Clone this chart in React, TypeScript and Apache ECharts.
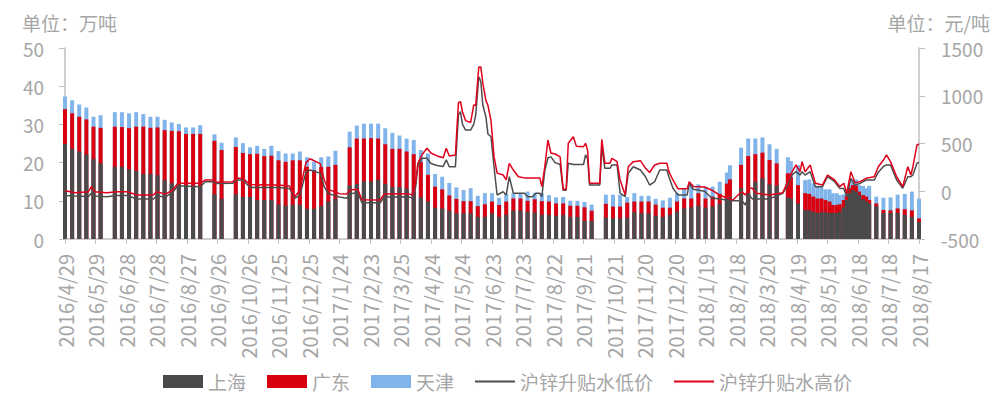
import React, { useEffect, useRef } from "react";
import * as echarts from "echarts";

// ---------- data ----------
const xTickLabels = [
  "2016/4/29", "2016/5/29", "2016/6/28", "2016/7/28", "2016/8/27", "2016/9/26", "2016/10/26",
  "2016/11/25", "2016/12/25", "2017/1/24", "2017/2/23", "2017/3/25", "2017/4/24", "2017/5/24",
  "2017/6/23", "2017/7/23", "2017/8/22", "2017/9/21", "2017/10/21", "2017/11/20", "2017/12/20",
  "2018/1/19", "2018/2/18", "2018/3/20", "2018/4/19", "2018/5/19", "2018/6/18", "2018/7/18", "2018/8/17",
];

const barDates = [
  "2016-04-29", "2016-05-06", "2016-05-13", "2016-05-20", "2016-05-27", "2016-06-03", "2016-06-17", "2016-06-24",
  "2016-07-01", "2016-07-08", "2016-07-15", "2016-07-22", "2016-07-29", "2016-08-05", "2016-08-12", "2016-08-19",
  "2016-08-26", "2016-09-02", "2016-09-09", "2016-09-23", "2016-09-30", "2016-10-14", "2016-10-21", "2016-10-28",
  "2016-11-04", "2016-11-11", "2016-11-18", "2016-11-25", "2016-12-02", "2016-12-09", "2016-12-16", "2016-12-23",
  "2016-12-30", "2017-01-06", "2017-01-13", "2017-01-20", "2017-02-03", "2017-02-10", "2017-02-17", "2017-02-24",
  "2017-03-03", "2017-03-10", "2017-03-17", "2017-03-24", "2017-03-31", "2017-04-07", "2017-04-14", "2017-04-21",
  "2017-04-28", "2017-05-05", "2017-05-12", "2017-05-19", "2017-05-26", "2017-06-02", "2017-06-09", "2017-06-16",
  "2017-06-23", "2017-06-30", "2017-07-07", "2017-07-14", "2017-07-21", "2017-07-28", "2017-08-04", "2017-08-11",
  "2017-08-18", "2017-08-25", "2017-09-01", "2017-09-08", "2017-09-15", "2017-09-22", "2017-09-29", "2017-10-13",
  "2017-10-20", "2017-10-27", "2017-11-03", "2017-11-10", "2017-11-17", "2017-11-24", "2017-12-01", "2017-12-08",
  "2017-12-15", "2017-12-22", "2017-12-29", "2018-01-05", "2018-01-12", "2018-01-19", "2018-01-26", "2018-02-02",
  "2018-02-09", "2018-02-12", "2018-02-23", "2018-03-02", "2018-03-09", "2018-03-16", "2018-03-23", "2018-03-30",
  "2018-04-10", "2018-04-13", "2018-04-20", "2018-04-27", "2018-05-01", "2018-05-05", "2018-05-09", "2018-05-13",
  "2018-05-17", "2018-05-21", "2018-05-24", "2018-05-28", "2018-05-31", "2018-06-04", "2018-06-07", "2018-06-10",
  "2018-06-13", "2018-06-16", "2018-06-19", "2018-06-23", "2018-06-26", "2018-06-29", "2018-07-06", "2018-07-13",
  "2018-07-20", "2018-07-27", "2018-08-03", "2018-08-10", "2018-08-17",
];

const shanghai = [
  24.9, 23.6, 22.9, 22.1, 20.9, 19.8, 18.9, 18.9,
  18.2, 17.8, 17.0, 17.0, 16.7, 15.4, 14.6, 14.3,
  14.0, 13.8, 13.8, 11.7, 10.5, 11.7, 11.0, 11.0,
  10.2, 10.2, 10.2, 9.0, 8.7, 9.0, 9.0, 7.9,
  7.9, 8.6, 9.8, 10.5, 14.0, 14.4, 15.1, 15.1,
  15.5, 14.4, 13.6, 13.6, 13.2, 12.4, 10.9, 9.8,
  8.2, 8.0, 7.4, 6.7, 6.7, 6.7, 5.8, 5.8,
  6.7, 5.8, 6.3, 7.4, 7.4, 7.1, 6.9, 6.3,
  6.3, 6.1, 6.3, 5.8, 5.8, 4.7, 4.7, 5.6,
  5.4, 5.4, 5.6, 7.0, 6.7, 6.7, 6.1, 5.8,
  6.3, 7.2, 8.0, 8.3, 8.7, 8.2, 8.5, 9.2,
  11.0, 11.0, 13.3, 12.0, 15.0, 15.9, 14.3, 14.0,
  10.9, 10.6, 9.3, 7.6, 7.5, 7.1, 6.8, 7.0,
  7.0, 6.8, 6.8, 6.8, 7.1, 8.3, 10.2, 12.0,
  12.8, 12.4, 11.5, 10.4, 9.9, 9.3, 8.6, 6.8,
  6.8, 6.8, 6.3, 5.8, 4.5,
];

const guangdong = [
  9.1, 9.3, 9.1, 9.2, 8.5, 9.3, 10.5, 10.4,
  10.8, 11.6, 12.4, 12.1, 12.5, 13.1, 13.7, 13.9,
  13.5, 13.7, 13.7, 14.0, 12.8, 12.4, 11.5, 11.2,
  12.1, 11.5, 11.6, 11.6, 11.5, 11.6, 11.6, 11.0,
  10.1, 10.2, 9.1, 8.9, 10.0, 11.9, 11.2, 11.3,
  10.8, 10.4, 10.0, 10.0, 9.7, 9.8, 9.3, 7.0,
  5.5, 5.0, 4.0, 3.8, 3.2, 3.2, 2.8, 3.3,
  3.1, 3.1, 3.5, 3.2, 3.2, 2.9, 3.5, 3.6,
  3.5, 3.2, 3.0, 2.9, 2.9, 3.6, 2.7, 3.6,
  3.1, 3.1, 3.9, 2.8, 3.1, 3.1, 2.9, 2.4,
  1.9, 2.6, 2.6, 2.3, 3.3, 2.4, 2.6, 2.6,
  3.5, 4.6, 6.1, 9.7, 7.2, 6.7, 6.4, 5.8,
  6.3, 5.6, 4.8, 4.4, 4.3, 4.0, 3.8, 3.6,
  3.2, 3.0, 2.1, 2.1, 2.0, 1.9, 1.1, 1.3,
  1.3, 1.5, 0.9, 1.1, 1.2, 0.9, 0.7, 0.8,
  0.7, 1.2, 1.5, 1.7, 0.9,
];

const tianjin = [
  3.3, 3.4, 3.2, 3.1, 2.6, 3.3, 3.8, 3.9,
  3.9, 3.8, 3.3, 2.9, 2.8, 2.7, 2.2, 1.9,
  1.7, 1.7, 2.3, 1.7, 1.9, 2.5, 2.6, 1.8,
  2.1, 1.9, 2.6, 2.4, 2.2, 1.8, 2.3, 2.5,
  2.3, 2.6, 2.7, 3.7, 4.1, 3.4, 3.9, 3.8,
  3.9, 4.2, 4.2, 3.5, 3.4, 3.7, 3.1, 5.6,
  3.3, 3.3, 3.3, 3.0, 2.9, 3.4, 2.7, 2.9,
  2.2, 1.9, 2.0, 1.4, 1.4, 2.4, 1.7, 2.1,
  1.7, 1.6, 1.7, 1.3, 1.3, 1.4, 1.6, 2.4,
  3.1, 3.1, 1.5, 2.2, 1.5, 1.5, 1.5, 1.9,
  2.6, 2.2, 2.7, 3.8, 2.3, 3.1, 2.6, 3.2,
  2.9, 3.7, 4.5, 4.6, 4.1, 4.0, 4.1, 3.8,
  4.2, 4.2, 5.2, 3.4, 3.8, 3.5, 3.3, 2.9,
  2.8, 3.2, 3.1, 3.1, 2.4, 1.5, 1.5, 0.8,
  1.3, 1.7, 1.7, 2.4, 2.2, 3.7, 1.8, 3.2,
  3.4, 3.6, 4.0, 4.9, 5.2,
];

const lineDates = [
  "2016-04-29", "2016-05-09", "2016-05-22", "2016-05-25", "2016-05-28", "2016-06-09", "2016-06-19", "2016-06-29",
  "2016-07-09", "2016-07-25", "2016-07-28", "2016-08-06", "2016-08-13", "2016-08-18", "2016-09-09", "2016-09-14",
  "2016-09-22", "2016-09-25", "2016-10-11", "2016-10-15", "2016-10-21", "2016-10-28", "2016-11-24", "2016-12-06",
  "2016-12-11", "2016-12-16", "2016-12-22", "2016-12-26", "2017-01-05", "2017-01-09", "2017-01-13", "2017-01-24",
  "2017-01-31", "2017-02-03", "2017-02-11", "2017-02-15", "2017-03-05", "2017-03-09", "2017-04-01", "2017-04-06",
  "2017-04-09", "2017-04-11", "2017-04-15", "2017-04-20", "2017-04-24", "2017-04-30", "2017-05-06", "2017-05-09",
  "2017-05-12", "2017-05-18", "2017-05-21", "2017-05-23", "2017-05-25", "2017-05-28", "2017-06-02", "2017-06-05",
  "2017-06-07", "2017-06-10", "2017-06-12", "2017-06-14", "2017-06-17", "2017-06-19", "2017-06-22", "2017-06-25",
  "2017-06-28", "2017-07-04", "2017-07-07", "2017-07-10", "2017-07-14", "2017-07-19", "2017-07-25", "2017-07-28",
  "2017-08-02", "2017-08-05", "2017-08-09", "2017-08-11", "2017-08-14", "2017-08-17", "2017-08-20", "2017-08-24",
  "2017-08-29", "2017-09-01", "2017-09-04", "2017-09-06", "2017-09-11", "2017-09-14", "2017-09-21", "2017-09-23",
  "2017-09-25", "2017-09-27", "2017-10-07", "2017-10-09", "2017-10-12", "2017-10-17", "2017-10-19", "2017-10-24",
  "2017-10-27", "2017-11-01", "2017-11-04", "2017-11-09", "2017-11-16", "2017-11-21", "2017-11-25", "2017-11-30",
  "2017-12-05", "2017-12-12", "2017-12-14", "2017-12-18", "2017-12-23", "2018-01-01", "2018-01-03", "2018-01-07",
  "2018-01-18", "2018-01-25", "2018-02-02", "2018-02-09", "2018-02-15", "2018-02-20", "2018-02-24", "2018-02-27",
  "2018-03-03", "2018-03-06", "2018-03-10", "2018-03-23", "2018-04-05", "2018-04-09", "2018-04-14", "2018-04-18",
  "2018-04-22", "2018-04-24", "2018-04-27", "2018-05-02", "2018-05-07", "2018-05-14", "2018-05-19", "2018-05-26",
  "2018-05-31", "2018-06-04", "2018-06-07", "2018-06-11", "2018-06-15", "2018-06-20", "2018-06-26", "2018-07-04",
  "2018-07-08", "2018-07-13", "2018-07-16", "2018-07-20", "2018-07-26", "2018-08-01", "2018-08-06", "2018-08-09",
  "2018-08-11", "2018-08-15", "2018-08-17",
];

const highPrice = [
  5, -15, -5, 48, -5, -15, -5, -5,
  -39, -39, -5, -30, 13, 83, 83, 118,
  118, 95, 100, 135, 135, 70, 65, 55,
  -57, 10, 300, 340, 290, 118, 20, -25,
  -30, 13, 20, -90, -92, -30, -25, -39,
  100, 290, 380, 450, 400, 370, 350, 450,
  370, 380, 930, 937, 830, 740, 720, 903,
  900, 1300, 1300, 1130, 950, 900, 740, 362,
  190, 170, 118, 293, 222, 152, 140, 140,
  140, 140, 140, 48, 260, 537, 400, 390,
  360, 20, 20, 502, 571, 470, 467, 502,
  432, 83, 83, 544, 293, 293, 345, 310,
  118, -39, 257, 310, 320, 240, 196, 275,
  293, 293, 205, 118, 25, 25, 100, 50,
  45, 13, -40, -70, -92, -39, -5, -40,
  31, 31, -20, -39, -15, 83, 200, 275,
  205, 310, 205, 275, 83, 65, 170, 118,
  48, 83, -21, 205, 90, 100, 135, 152,
  257, 327, 380, 310, 152, 48, 257, 170,
  257, 484, 495,
];

const lowPrice = [
  -45, -50, -55, -20, -50, -57, -45, -45,
  -81, -81, -50, -60, -10, 58, 48, 100,
  100, 80, 83, 118, 118, 40, 40, 30,
  -74, -40, 200, 222, 190, 48, -25, -60,
  -74, -30, -10, -120, -120, -60, -57, -70,
  50, 257, 345, 345, 290, 270, 260, 330,
  257, 257, 800, 833, 700, 641, 641, 700,
  800, 1199, 1150, 900, 780, 600, 571, 257,
  -39, -5, -39, 152, -21, -21, -21, -57,
  -57, -21, -21, -57, 220, 350, 360, 300,
  280, 10, 10, 293, 280, 280, 280, 380,
  340, 65, 65, 467, 240, 240, 275, 275,
  -20, -57, 188, 257, 222, 152, 65, 100,
  222, 222, 152, 31, -39, -39, 83, 20,
  0, -70, -80, -92, -100, -100, -100, -144,
  -40, -80, -80, -80, -21, 48, 170, 205,
  170, 205, 170, 205, 48, 48, 152, 100,
  30, 30, -57, 135, 60, 83, 118, 118,
  200, 260, 275, 275, 118, 31, 152, 152,
  170, 293, 303,
];

// ---------- helpers ----------
const START = Date.UTC(2016, 3, 29);
const dayOf = (s: string) => {
  const [y, m, d] = s.split("-").map(Number);
  return Math.round((Date.UTC(y, m - 1, d) - START) / 86400000);
};

const FONT = "'Noto Sans CJK SC', 'Microsoft YaHei', sans-serif";
const TEXT = "#A6A6A6";
const AXIS = "#BFBFBF";
// thin horizontal line icon inside a 40x13 box (the tiny left sliver keeps the box height)
const LINE_ICON = "path://M0,0h0.01v13h-0.01z M0,5.6h40v1.8h-40z";

export default function App() {
  const ref = useRef<HTMLDivElement>(null);

  useEffect(() => {
    document.body.style.margin = "0";
    if (!ref.current) return;
    const chart = echarts.init(ref.current, undefined, { renderer: "svg" });

    const barX = barDates.map(dayOf);
    const lineX = lineDates.map(dayOf);
    // cumulative tops: 上海 at the bottom, 广东 above it, 天津 on top
    const topSh = shanghai.map((v) => v);
    const topGd = shanghai.map((v, i) => v + guangdong[i]);
    const topTj = shanghai.map((v, i) => v + guangdong[i] + tianjin[i]);

    const barSeries = (name: string, tops: number[], color: string, z: number) => ({
      name,
      type: "bar",
      barWidth: 4,
      barGap: "-100%",
      yAxisIndex: 0,
      z,
      itemStyle: { color },
      data: tops.map((v, i) => [barX[i], v]),
    });
    const lineSeries = (name: string, vals: number[], color: string, z: number) => ({
      name,
      type: "line",
      yAxisIndex: 1,
      symbol: "none",
      showSymbol: false,
      z,
      lineStyle: { color, width: 1.5 },
      itemStyle: { color },
      data: vals.map((v, i) => [lineX[i], v]),
    });

    chart.setOption({
      animation: false,
      textStyle: { fontFamily: FONT },
      grid: { left: 65, right: 82, top: 48, bottom: 157, containLabel: false },
      graphic: [
        { type: "text", left: 22, top: 13, style: { text: "单位：万吨", fontSize: 19, fill: TEXT, fontFamily: FONT } },
        { type: "text", right: 11, top: 13, style: { text: "单位：元/吨", fontSize: 19, fill: TEXT, fontFamily: FONT } },
      ],
      legend: {
        top: 367,
        left: 158,
        itemWidth: 40,
        itemHeight: 13,
        itemGap: 21,
        textStyle: { fontSize: 19, color: TEXT, fontFamily: FONT },
        data: [
          { name: "上海", icon: "rect" },
          { name: "广东", icon: "rect" },
          { name: "天津", icon: "rect" },
          { name: "沪锌升贴水低价", icon: LINE_ICON },
          { name: "沪锌升贴水高价", icon: LINE_ICON },
        ],
      },
      xAxis: {
        type: "value",
        min: 0,
        max: 840,
        interval: 30,
        axisLine: { show: true, onZero: false, lineStyle: { color: AXIS, width: 1.5 } },
        axisTick: { show: true, length: 5, lineStyle: { color: AXIS } },
        splitLine: { show: false },
        axisLabel: {
          rotate: 90,
          fontSize: 20,
          color: TEXT,
          margin: 15,
          showMinLabel: true,
          showMaxLabel: true,
          formatter: (v: number) => xTickLabels[Math.round(v / 30)] ?? "",
        },
      },
      yAxis: [
        {
          type: "value",
          min: 0,
          max: 50,
          interval: 10,
          axisLine: { show: true, lineStyle: { color: AXIS, width: 1.5 } },
          axisTick: { show: true, length: 6, lineStyle: { color: AXIS } },
          splitLine: { show: false },
          axisLabel: { fontSize: 19, color: TEXT, margin: 21, formatter: (v: number) => String(v) },
        },
        {
          type: "value",
          position: "right",
          min: -500,
          max: 1500,
          interval: 500,
          axisLine: { show: true, lineStyle: { color: AXIS, width: 1.5 } },
          axisTick: { show: true, length: 6, lineStyle: { color: AXIS } },
          splitLine: { show: false },
          axisLabel: { fontSize: 19, color: TEXT, margin: 22, formatter: (v: number) => String(v) },
        },
      ],
      series: [
        barSeries("天津", topTj, "#80B4EA", 2),
        barSeries("广东", topGd, "#D9000F", 3),
        barSeries("上海", topSh, "#4A4A4A", 4),
        lineSeries("沪锌升贴水低价", lowPrice, "#4D4D4D", 5),
        lineSeries("沪锌升贴水高价", highPrice, "#E0001B", 6),
      ],
    });

    return () => chart.dispose();
  }, []);

  return <div ref={ref} style={{ width: 1001, height: 396 }} />;
}
